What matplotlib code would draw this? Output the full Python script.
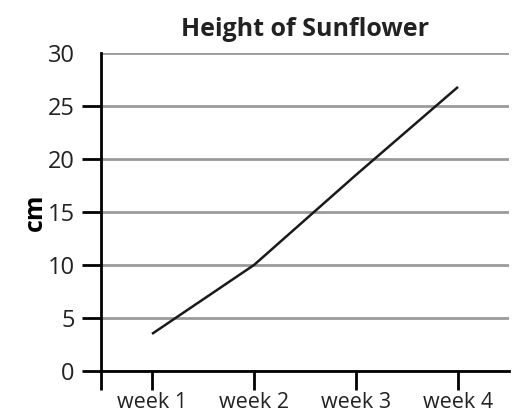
import matplotlib.pyplot as plt

# dados
weeks = ['week 1', 'week 2', 'week 3', 'week 4']
height_cm = [3.5, 10, 18.5, 26.8]
y_ticks = [0, 5, 10, 15, 20, 25, 30]

plt.rcParams['font.family'] = ['Open Sans', 'DejaVu Sans']

fig = plt.figure(figsize=(5.15, 4.12), dpi=100)
ax = fig.add_axes([101 / 515, 41 / 412, 408 / 515, 318 / 412])

x = list(range(len(weeks)))
ax.plot(x, height_cm, color='#1a1a1a', linewidth=1.8, solid_capstyle='butt')

ax.set_xlim(-0.5, len(weeks) - 0.5)
ax.set_ylim(0, 30)

ax.set_yticks(y_ticks)
ax.set_yticklabels([str(v) for v in y_ticks], fontsize=17, color='#222222')
ax.set_xticks([-0.5] + x)
ax.set_xticklabels([''] + weeks, fontsize=15.5, color='#222222')

ax.tick_params(axis='y', length=14, width=2, pad=5, color='black')
ax.tick_params(axis='x', length=14, width=2, pad=1, color='black')
ax.yaxis.get_major_ticks()[-1].tick1line.set_visible(False)

ax.grid(axis='y', color='#9a9a9a', linewidth=2)
ax.set_axisbelow(True)

for side in ['top', 'right']:
    ax.spines[side].set_visible(False)
for side in ['left', 'bottom']:
    ax.spines[side].set_linewidth(2)
    ax.spines[side].set_color('black')

ax.set_ylabel('cm', fontsize=18, fontweight='bold', labelpad=0)
ax.set_title('Height of Sunflower', fontsize=18, fontweight='bold', pad=12, color='#222222')

fig.savefig('out.png', dpi=100)
